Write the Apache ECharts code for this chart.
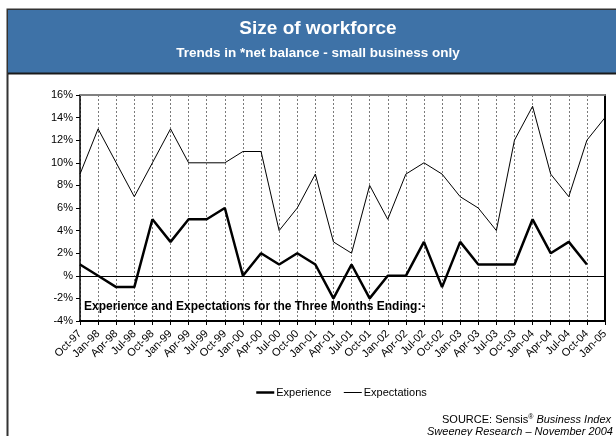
<!DOCTYPE html>
<html>
<head>
<meta charset="utf-8">
<script src="https://cdn.jsdelivr.net/npm/echarts@6/dist/echarts.min.js"></script>
<style>
  html, body { margin: 0; padding: 0; background: #ffffff; }
  #chart { width: 616px; height: 436px; }
</style>
</head>
<body>
<div id="chart"></div>
<script>
// Quarter-end labels (three months ending)
const quarters = [
  'Oct-97', 'Jan-98', 'Apr-98', 'Jul-98', 'Oct-98', 'Jan-99', 'Apr-99', 'Jul-99',
  'Oct-99', 'Jan-00', 'Apr-00', 'Jul-00', 'Oct-00', 'Jan-01', 'Apr-01', 'Jul-01',
  'Oct-01', 'Jan-02', 'Apr-02', 'Jul-02', 'Oct-02', 'Jan-03', 'Apr-03', 'Jul-03',
  'Oct-03', 'Jan-04', 'Apr-04', 'Jul-04', 'Oct-04', 'Jan-05'
];

// Net balance, % (small business)
const experience = [
  1, 0, -1, -1, 5, 3, 5, 5, 6, 0, 2, 1, 2, 1, -2, 1,
  -2, 0, 0, 3, -1, 3, 1, 1, 1, 5, 2, 3, 1, null
];
const expectations = [
  9, 13, 10, 7, 10, 13, 10, 10, 10, 11, 11, 4, 6, 9, 3, 2,
  8, 5, 9, 10, 9, 7, 6, 4, 12, 15, 9, 7, 12, 14
];

// Value axis range and steps
const yMin = -4;
const yMax = 16;
const yStep = 2;

const FONT = '"Liberation Sans", Arial, sans-serif';

const chart = echarts.init(document.getElementById('chart'), null, { renderer: 'canvas' });

chart.setOption({
  backgroundColor: '#ffffff',
  animation: false,
  textStyle: { fontFamily: FONT },
  graphic: [
    // outer frame
    {
      type: 'rect', z: 0,
      shape: { x: 7.5, y: 9.5, width: 640, height: 460 },
      style: { fill: '#ffffff', stroke: '#333333', lineWidth: 2 }
    },
    // header band
    {
      type: 'rect', z: 1,
      shape: { x: 8, y: 10, width: 640, height: 63 },
      style: { fill: '#3e72a7' }
    },
    {
      type: 'line', z: 2,
      shape: { x1: 8, y1: 73.5, x2: 640, y2: 73.5 },
      style: { stroke: '#1a1a1a', lineWidth: 2 }
    },
    {
      type: 'text', z: 3,
      x: 318, y: 29,
      style: {
        text: 'Size of workforce',
        fill: '#ffffff', font: 'bold 19px ' + FONT,
        align: 'center', verticalAlign: 'middle'
      }
    },
    {
      type: 'text', z: 3,
      x: 318, y: 53,
      style: {
        text: 'Trends in *net balance - small business only',
        fill: '#ffffff', font: 'bold 13.5px ' + FONT,
        align: 'center', verticalAlign: 'middle'
      }
    },
    // caption inside plot
    {
      type: 'text', z: 10,
      x: 84, y: 307,
      style: {
        text: 'Experience and Expectations for the Three Months Ending:-',
        fill: '#000000', font: 'bold 12px ' + FONT,
        verticalAlign: 'middle'
      }
    },
    // source note
    {
      type: 'text', z: 10,
      x: 442, y: 420,
      style: {
        text: '{n|SOURCE: Sensis}{s|®}{i| Business Index}',
        verticalAlign: 'middle',
        rich: {
          n: { fontFamily: FONT, fontSize: 11, fill: '#000000' },
          s: { fontFamily: FONT, fontSize: 7, fill: '#000000', verticalAlign: 'top', padding: [0, 0, 6, 0] },
          i: { fontFamily: FONT, fontSize: 11, fontStyle: 'italic', fill: '#000000' }
        }
      }
    },
    {
      type: 'text', z: 10,
      x: 427, y: 432,
      style: {
        text: 'Sweeney Research – November 2004',
        fill: '#000000', font: 'italic 11px ' + FONT,
        verticalAlign: 'middle'
      }
    }
  ],
  legend: {
    left: 250, top: 382,
    itemWidth: 18, itemHeight: 10, itemGap: 12,
    itemStyle: { opacity: 0 },
    textStyle: { fontFamily: FONT, fontSize: 11, color: '#000000', padding: [0, 0, 0, -3] },
    data: [
      { name: 'Experience', lineStyle: { width: 2.5, color: '#000000' } },
      { name: 'Expectations', lineStyle: { width: 1, color: '#000000' } }
    ]
  },
  grid: { left: 80, right: 11, top: 95, bottom: 115, containLabel: false },
  xAxis: [
    {
      type: 'category',
      data: quarters,
      boundaryGap: false,
      position: 'bottom',
      axisLine: { show: true, onZero: false, lineStyle: { color: '#000000', width: 2 } },
      axisTick: { show: true, interval: 0, length: 4, lineStyle: { color: '#000000' } },
      axisLabel: {
        interval: 0, rotate: 45, margin: 11,
        fontFamily: FONT, fontSize: 11, color: '#000000'
      },
      splitLine: {
        show: true, interval: 0,
        lineStyle: { color: '#7a7a7a', type: [2, 2], width: 1 }
      }
    },
    {
      type: 'category',
      data: quarters,
      boundaryGap: false,
      position: 'top',
      axisLine: { show: true, onZero: false, lineStyle: { color: '#808080', width: 2 } },
      axisTick: { show: false },
      axisLabel: { show: false },
      splitLine: { show: false }
    }
  ],
  yAxis: [
    {
      type: 'value',
      min: yMin, max: yMax, interval: yStep,
      position: 'left',
      axisLine: { show: true, lineStyle: { color: '#000000', width: 1.5 } },
      axisTick: { show: true, length: 4, lineStyle: { color: '#000000' } },
      axisLabel: {
        margin: 7, fontFamily: FONT, fontSize: 11, color: '#000000',
        formatter: v => (v === 0 ? '%' : v + '%')
      },
      splitLine: { show: false }
    },
    {
      type: 'value',
      min: yMin, max: yMax, interval: yStep,
      position: 'right',
      axisLine: { show: true, lineStyle: { color: '#000000', width: 2 } },
      axisTick: { show: false },
      axisLabel: { show: false },
      splitLine: { show: false }
    }
  ],
  series: [
    {
      name: 'Experience',
      type: 'line',
      data: experience,
      symbol: 'none',
      lineStyle: { color: '#000000', width: 2.5 },
      itemStyle: { color: '#000000' },
      z: 5,
      markLine: {
        silent: true,
        symbol: 'none',
        label: { show: false },
        lineStyle: { color: '#000000', width: 1, type: 'solid' },
        data: [{ yAxis: 0 }]
      }
    },
    {
      name: 'Expectations',
      type: 'line',
      data: expectations,
      symbol: 'none',
      lineStyle: { color: '#000000', width: 1 },
      itemStyle: { color: '#000000' },
      z: 4
    }
  ]
});
</script>
</body>
</html>
